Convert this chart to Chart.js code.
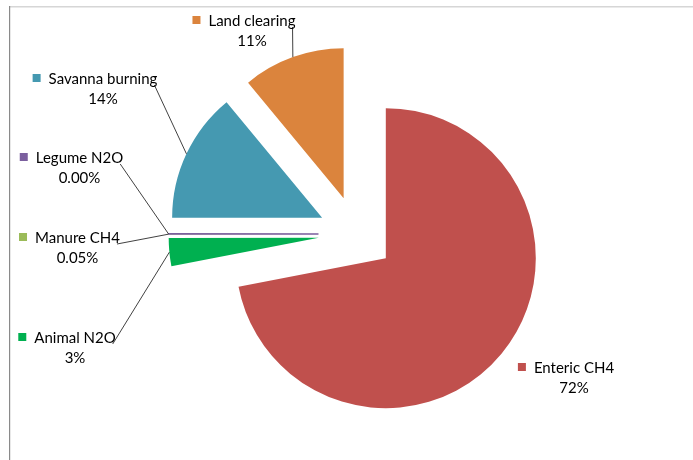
<!DOCTYPE html>
<html>
<head>
<meta charset="utf-8">
<script src="https://cdn.jsdelivr.net/npm/chart.js@4.4.1/dist/chart.umd.min.js"></script>
<style>
  html, body { margin: 0; padding: 0; background: #fff; }
  #wrap { width: 693px; height: 460px; }
</style>
</head>
<body>
<div id="wrap"><canvas id="c" width="693" height="460"></canvas></div>
<script>
// Emission sources (clockwise from 12 o'clock) and their shares in percent
const categories = ['Enteric CH4', 'Animal N2O', 'Manure CH4', 'Legume N2O', 'Savanna burning', 'Land clearing'];
const shares = [72, 3, 0.05, 0.003, 14, 11];
const percentDecimals = [0, 0, 2, 2, 0, 0];

const sliceColors = ['#C0504D', '#00B050', '#9BBB59', '#7B5F9E', '#4599B1', '#DB843D'];
const sliceBorders = [0, 0, 0, 1.6, 0, 0];

// Data label placement: centre x of the name text, baseline y of its first line
const labelAnchors = [[574, 373], [75, 343], [77.5, 243], [79.5, 163], [103, 84], [252, 26]];
const hasLeader = [false, true, true, true, true, true];

const EXPLODE = 38;     // distance every slice is pulled out of the centre
const RADIUS = 150;
const LABEL_FONT = '15px Lato, "Liberation Sans", sans-serif';

// Thin frame along the top and left edges
const framePlugin = {
  id: 'frame',
  beforeDraw(chart) {
    const ctx = chart.ctx;
    ctx.save();
    ctx.fillStyle = '#d6d6d6';
    ctx.fillRect(9, 6, chart.width - 9, 1.5);
    ctx.fillStyle = '#8a8a8a';
    ctx.fillRect(9, 6, 1.2, chart.height - 6);
    ctx.restore();
  }
};

// Draw every slice pulled out along its bisector
const explodePlugin = {
  id: 'explode',
  beforeDatasetDraw(chart, args) {
    const ctx = chart.ctx;
    args.meta.data.forEach(arc => {
      const mid = (arc.startAngle + arc.endAngle) / 2;
      ctx.save();
      ctx.translate(Math.cos(mid) * EXPLODE, Math.sin(mid) * EXPLODE);
      arc.draw(ctx);
      ctx.restore();
    });
    return false;
  }
};

// Data labels with legend key, name, percentage and leader lines
const labelPlugin = {
  id: 'sliceLabels',
  afterDatasetsDraw(chart) {
    const ctx = chart.ctx;
    const meta = chart.getDatasetMeta(0);
    const values = chart.data.datasets[0].data;
    const total = values.reduce((a, b) => a + b, 0);
    ctx.save();
    ctx.font = LABEL_FONT;
    meta.data.forEach((arc, i) => {
      const name = chart.data.labels[i];
      const pct = (values[i] / total * 100).toFixed(percentDecimals[i]) + '%';
      const [cx, by] = labelAnchors[i];
      const w = ctx.measureText(name).width;
      const left = cx - w / 2;
      const right = cx + w / 2;

      if (hasLeader[i]) {
        const mid = (arc.startAngle + arc.endAngle) / 2;
        const r = arc.outerRadius + EXPLODE;
        const ex = arc.x + Math.cos(mid) * r;
        const ey = arc.y + Math.sin(mid) * r;
        ctx.strokeStyle = '#2b2b2b';
        ctx.lineWidth = 0.9;
        ctx.beginPath();
        ctx.moveTo(right - 3, by + 1);
        ctx.lineTo(ex, ey);
        ctx.stroke();
      }

      ctx.fillStyle = sliceColors[i];
      ctx.fillRect(left - 16, by - 10, 8, 8);

      ctx.fillStyle = '#000';
      ctx.textAlign = 'center';
      ctx.textBaseline = 'alphabetic';
      ctx.fillText(name, cx, by);
      ctx.fillText(pct, cx, by + 20);
    });
    ctx.restore();
  }
};

new Chart(document.getElementById('c'), {
  type: 'pie',
  data: {
    labels: categories,
    datasets: [{
      data: shares,
      backgroundColor: sliceColors,
      borderColor: sliceColors,
      borderWidth: sliceBorders,
      radius: RADIUS
    }]
  },
  options: {
    responsive: false,
    animation: false,
    radius: RADIUS,
    layout: { padding: { left: 20, right: 0, top: 8, bottom: 0 } },
    plugins: {
      legend: { display: false },
      tooltip: { enabled: false },
      title: { display: false }
    },
    events: []
  },
  plugins: [framePlugin, explodePlugin, labelPlugin]
});
</script>
</body>
</html>
